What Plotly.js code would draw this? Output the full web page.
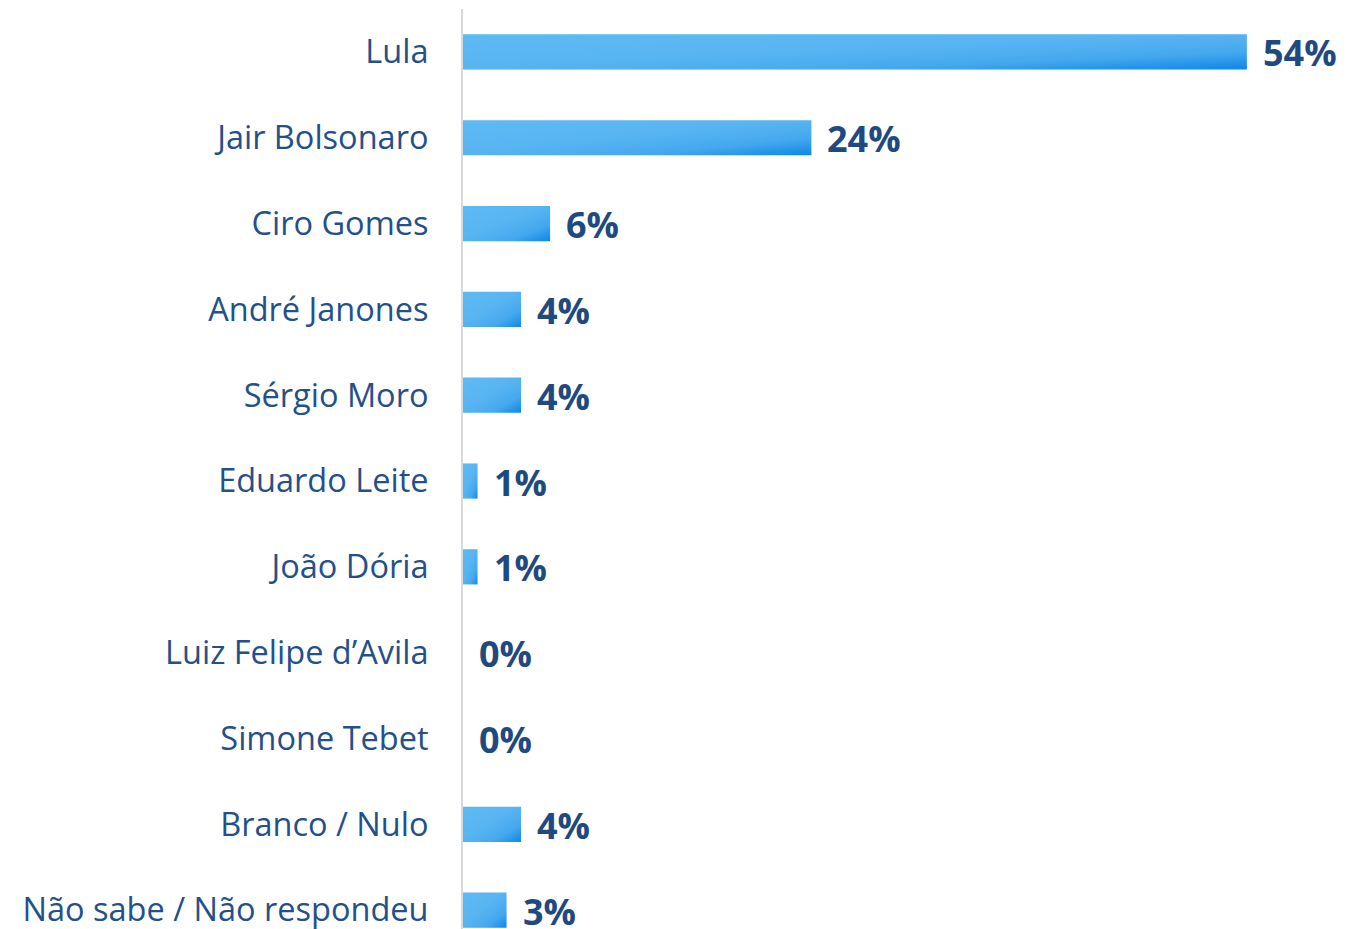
<!DOCTYPE html>
<html>
<head>
<meta charset="utf-8">
<script src="https://cdn.plot.ly/plotly-3.0.1.min.js"></script>
<style>
html,body{margin:0;padding:0;overflow:hidden;background:#fff;}
#chart{width:1346px;height:929px;}
</style>
</head>
<body>
<div id="chart"></div>
<script>
const categories = ["Lula","Jair Bolsonaro","Ciro Gomes","André Janones","Sérgio Moro","Eduardo Leite","João Dória","Luiz Felipe d’Avila","Simone Tebet","Branco / Nulo","Não sabe / Não respondeu"];
const values = [54,24,6,4,4,1,1,0,0,4,3];
const valueLabels = values.map(v => v + "%");

const trace = {
  type: "bar",
  orientation: "h",
  x: values,
  y: categories,
  width: 0.41,
  marker: {color: "#55b3f1", line: {width: 0}},
  hoverinfo: "none"
};

const annotations = values.map((v, i) => ({
  x: v, y: categories[i], xref: "x", yref: "y",
  text: valueLabels[i], showarrow: false,
  xanchor: "left", yanchor: "middle", xshift: 14, yshift: -1,
  font: {family: "Open Sans", size: 36, color: "#1f4a80", weight: 700}
}));

const layout = {
  width: 1346, height: 929,
  margin: {l: 463, r: 12, t: 9, b: 0, pad: 0},
  paper_bgcolor: "#ffffff", plot_bgcolor: "#ffffff",
  showlegend: false,
  xaxis: {range: [0, 60], visible: false, fixedrange: true},
  yaxis: {
    type: "category", range: [10.22, -0.5],
    showline: true, linecolor: "#d9d9d9", linewidth: 2,
    showgrid: false, zeroline: false, ticks: "",
    ticklabelstandoff: 26,
    tickfont: {family: "Open Sans", size: 32.5, color: "#24508a"}
  },
  annotations: annotations
};

Plotly.newPlot("chart", [trace], layout, {staticPlot: true, displayModeBar: false}).then(gd => {
  const svg = gd.querySelector("svg.main-svg");
  const ns = "http://www.w3.org/2000/svg";
  let defs = svg.querySelector("defs");
  if (!defs) { defs = document.createElementNS(ns, "defs"); svg.insertBefore(defs, svg.firstChild); }
  const g = document.createElementNS(ns, "linearGradient");
  g.setAttribute("id", "barGrad");
  g.setAttribute("x1", "0"); g.setAttribute("y1", "0");
  g.setAttribute("x2", "1"); g.setAttribute("y2", "1");
  [["0", "#5dbaf3"], ["0.45", "#58b5f2"], ["0.75", "#45a8ee"], ["1", "#0d87e6"]].forEach(([o, c]) => {
    const s = document.createElementNS(ns, "stop");
    s.setAttribute("offset", o); s.setAttribute("stop-color", c);
    g.appendChild(s);
  });
  defs.appendChild(g);
  gd.querySelectorAll(".barlayer .point path").forEach(p => { p.style.fill = "url(#barGrad)"; });
});
</script>
</body>
</html>
